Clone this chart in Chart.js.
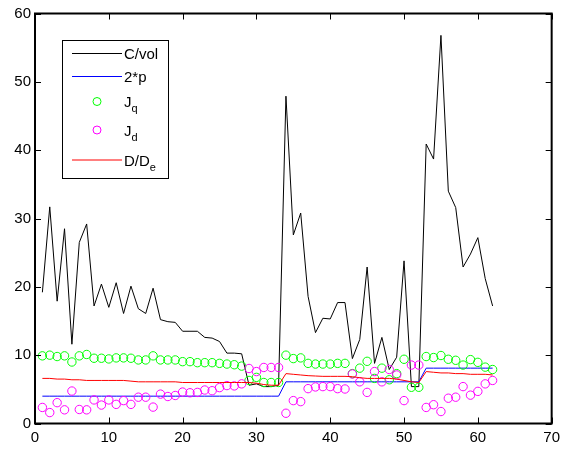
<!DOCTYPE html>
<html>
<head>
<meta charset="utf-8">
<script src="https://cdn.jsdelivr.net/npm/chart.js@4"></script>
<style>
  html, body { margin: 0; padding: 0; background: #ffffff; }
  canvas { display: block; }
</style>
</head>
<body>
<canvas id="c" width="565" height="449"></canvas>
<script>
// Sample index along the horizontal axis
const xIndex = [1,2,3,4,5,6,7,8,9,10,11,12,13,14,15,16,17,18,19,20,
  21,22,23,24,25,26,27,28,29,30,31,32,33,34,35,36,37,38,39,40,
  41,42,43,44,45,46,47,48,49,50,51,52,53,54,55,56,57,58,59,60,61,62];

// C/vol
const cVol = [19.2,31.7,17.9,28.5,11.6,26.5,29.2,17.2,20.4,17.0,
  20.6,16.1,20.1,16.8,16.1,19.8,15.2,14.9,14.8,13.5,
  13.5,13.5,12.6,12.5,12.0,10.3,10.3,10.2,5.6,5.8,
  5.4,5.4,5.6,47.9,27.6,30.8,18.6,13.3,15.4,15.3,
  17.7,17.7,9.5,12.3,22.9,8.8,12.6,7.9,9.7,23.8,
  5.4,5.4,40.9,38.7,56.8,34.0,31.6,22.9,24.8,27.2,21.2,17.2];

// 2*p
const twoP = [4.0,4.0,4.0,4.0,4.0,4.0,4.0,4.0,4.0,4.0,
  4.0,4.0,4.0,4.0,4.0,4.0,4.0,4.0,4.0,4.0,
  4.0,4.0,4.0,4.0,4.0,4.0,4.0,4.0,4.0,4.0,
  4.0,4.0,4.0,6.1,6.1,6.1,6.1,6.1,6.1,6.1,
  6.1,6.1,6.1,6.1,6.1,6.1,6.1,6.1,6.1,6.1,
  6.1,6.1,8.1,8.1,8.1,8.1,8.1,8.1,8.1,8.1,8.1,8.1];

// J_q
const jq = [9.9,10.0,9.8,9.9,9.0,9.9,10.1,9.55,9.55,9.45,
  9.6,9.6,9.55,9.3,9.3,9.9,9.3,9.3,9.3,9.05,
  9.05,8.9,8.9,8.9,8.8,8.7,8.6,8.4,6.3,6.75,
  6.0,6.0,6.0,10.0,9.5,9.6,8.8,8.7,8.7,8.7,
  8.8,8.8,7.3,8.1,9.1,6.6,8.1,6.4,7.3,9.4,
  5.3,5.3,9.8,9.65,9.95,9.4,9.25,8.55,9.35,8.95,8.25,7.9];

// J_d
const jd = [2.35,1.6,3.05,2.0,4.75,2.05,2.0,3.45,2.7,3.45,
  2.8,3.35,2.8,3.85,3.85,2.4,4.3,3.95,4.1,4.6,
  4.5,4.55,4.9,4.8,5.25,5.55,5.5,5.8,8.05,7.6,
  8.2,8.2,8.2,1.5,3.35,3.2,5.1,5.35,5.4,5.4,
  5.1,5.05,7.25,6.1,4.55,7.6,6.1,7.9,7.1,3.35,
  8.55,8.55,2.35,2.75,1.75,3.7,3.85,5.4,4.15,4.7,5.8,6.3];

// D/D_e
const dRatio = [6.6,6.6,6.5,6.5,6.4,6.4,6.3,6.3,6.3,6.3,
  6.3,6.3,6.2,6.1,6.1,6.1,6.1,6.1,6.1,6.0,
  6.0,6.0,6.0,6.0,6.0,6.0,6.0,6.0,6.0,5.9,
  5.7,5.6,5.6,7.3,7.2,7.1,7.0,6.95,6.9,6.9,
  6.9,6.9,6.85,6.7,6.6,6.6,6.6,6.6,6.5,6.3,
  6.1,6.0,7.6,7.5,7.4,7.4,7.3,7.3,7.2,7.2,7.2,7.1];

const xTicks = [0,10,20,30,40,50,60,70];
const yTicks = [0,10,20,30,40,50,60];

const FONT = "'Liberation Sans', Arial, Helvetica, sans-serif";
const pts = ys => ys.map((y, i) => ({ x: xIndex[i], y }));

// Axes box with inward tick marks on all four sides
const boxPlugin = {
  id: 'axesBox',
  afterDraw(chart) {
    const { ctx, chartArea: a, scales } = chart;
    ctx.save();
    ctx.strokeStyle = '#000';
    ctx.lineWidth = 1;
    ctx.beginPath();
    scales.x.ticks.forEach(t => {
      const px = Math.round(scales.x.getPixelForValue(t.value)) + 0.5;
      ctx.moveTo(px, a.bottom); ctx.lineTo(px, a.bottom - 6);
      ctx.moveTo(px, a.top); ctx.lineTo(px, a.top + 6);
    });
    scales.y.ticks.forEach(t => {
      const py = Math.round(scales.y.getPixelForValue(t.value)) + 0.5;
      ctx.moveTo(a.left, py); ctx.lineTo(a.left + 6, py);
      ctx.moveTo(a.right, py); ctx.lineTo(a.right - 6, py);
    });
    ctx.stroke();
    ctx.lineWidth = 2;
    ctx.strokeRect(a.left, a.top, a.right - a.left, a.bottom - a.top);
    ctx.restore();
  }
};

// Legend with subscripted labels
const legendPlugin = {
  id: 'subLegend',
  afterDraw(chart) {
    const ctx = chart.ctx;
    ctx.save();
    ctx.fillStyle = '#fff';
    ctx.fillRect(62.5, 40.5, 106, 138);
    ctx.strokeStyle = '#000';
    ctx.lineWidth = 1;
    ctx.strokeRect(62.5, 40.5, 106, 138);

    const entries = [
      { kind: 'line', color: '#000000', y: 53.5, main: 'C/vol', sub: '' },
      { kind: 'line', color: '#0000ff', y: 76.5, main: '2*p', sub: '' },
      { kind: 'mark', color: '#00ff00', y: 101.5, main: 'J', sub: 'q' },
      { kind: 'mark', color: '#ff00ff', y: 130, main: 'J', sub: 'd' },
      { kind: 'line', color: '#ff0000', y: 160, main: 'D/D', sub: 'e' }
    ];
    entries.forEach(e => {
      ctx.strokeStyle = e.color;
      ctx.lineWidth = 1;
      if (e.kind === 'line') {
        ctx.beginPath();
        ctx.moveTo(72, e.y); ctx.lineTo(122, e.y);
        ctx.stroke();
      } else {
        ctx.beginPath();
        ctx.arc(97, e.y, 4, 0, Math.PI * 2);
        ctx.stroke();
      }
      ctx.fillStyle = '#000';
      ctx.textBaseline = 'alphabetic';
      ctx.font = '15px ' + FONT;
      const base = e.y + 5.5;
      ctx.fillText(e.main, 124, base);
      if (e.sub) {
        const w = ctx.measureText(e.main).width;
        ctx.font = '11px ' + FONT;
        ctx.fillText(e.sub, 124 + w, base + 5);
      }
    });
    ctx.restore();
  }
};

const lineSet = (label, data, color, order) => ({
  label, data: pts(data), borderColor: color, backgroundColor: color,
  borderWidth: 1, pointRadius: 0, showLine: true, tension: 0, order
});
const markSet = (label, data, color, order) => ({
  label, data: pts(data), borderColor: color, backgroundColor: 'rgba(0,0,0,0)',
  showLine: false, pointStyle: 'circle', pointRadius: 4.2, pointBorderWidth: 1, order
});

new Chart(document.getElementById('c'), {
  type: 'line',
  data: {
    datasets: [
      lineSet('C/vol', cVol, '#000000', 5),
      lineSet('2*p', twoP, '#0000ff', 4),
      markSet('J_q', jq, '#00ff00', 3),
      markSet('J_d', jd, '#ff00ff', 2),
      lineSet('D/D_e', dRatio, '#ff0000', 1)
    ]
  },
  options: {
    responsive: false,
    animation: false,
    events: [],
    layout: { padding: { top: 13.5, right: 10, left: 0, bottom: 0 } },
    plugins: { legend: { display: false }, tooltip: { enabled: false } },
    scales: {
      x: {
        type: 'linear', min: 0, max: 70,
        grid: { display: false, drawTicks: false }, border: { display: false },
        afterBuildTicks: s => { s.ticks = xTicks.map(v => ({ value: v })); },
        afterFit: s => { s.height = 25.5; },
        ticks: { color: '#000', font: { family: FONT, size: 15 }, padding: 5, maxRotation: 0, autoSkip: false }
      },
      y: {
        type: 'linear', min: 0, max: 60,
        grid: { display: false, drawTicks: false }, border: { display: false },
        afterBuildTicks: s => { s.ticks = yTicks.map(v => ({ value: v })); },
        afterFit: s => { s.width = 35; },
        ticks: { color: '#000', font: { family: FONT, size: 15 }, padding: 4, autoSkip: false }
      }
    }
  },
  plugins: [boxPlugin, legendPlugin]
});
</script>
</body>
</html>
